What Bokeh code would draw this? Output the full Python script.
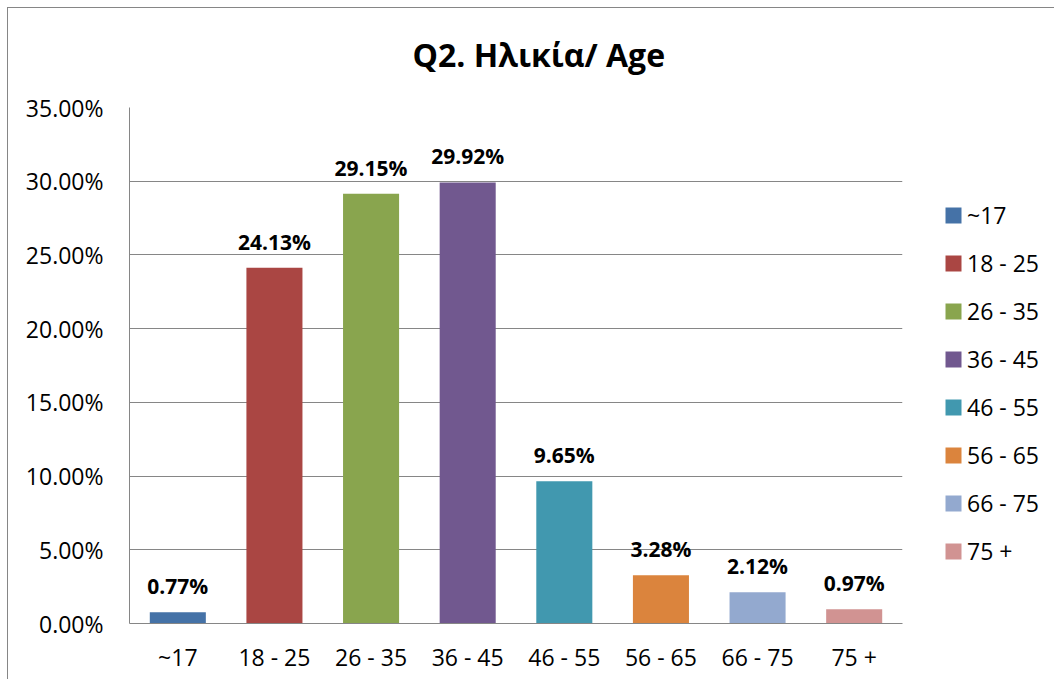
from bokeh.plotting import figure
from bokeh.layouts import column
from bokeh.models import ColumnDataSource, FactorRange, FixedTicker, PrintfTickFormatter, Legend, LegendItem
from bokeh.embed import file_html
from bokeh.resources import INLINE
from bokeh.core.properties import value

categories = ["~17", "18 - 25", "26 - 35", "36 - 45", "46 - 55", "56 - 65", "66 - 75", "75 +"]
percent = [0.77, 24.13, 29.15, 29.92, 9.65, 3.28, 2.12, 0.97]
colors = ["#4572A7", "#AA4643", "#89A54E", "#71588F", "#4198AF", "#DB843D", "#93A9CF", "#D19392"]
y_ticks = [0, 5, 10, 15, 20, 25, 30, 35]

FONT = "Open Sans"

src = ColumnDataSource(dict(
    cat=categories, val=percent, color=colors,
    lab=[f"{v:.2f}%" for v in percent],
))

p = figure(
    x_range=FactorRange(*categories, range_padding=0),
    y_range=(0, 35),
    frame_width=773, frame_height=516,
    min_border_left=121, min_border_top=109, min_border_bottom=56, min_border_right=145,
    output_backend="svg", toolbar_location=None,
    title="Q2. Ηλικία/ Age",
)
p.styles = {"margin-top": "-10px"}

p.title.align = "left"
p.title.vertical_align = "bottom"
p.title.text_font = FONT
p.title.text_font_size = "32px"
p.title.text_font_style = "bold"
p.title.text_color = "black"
p.title.offset = 283
p.title.standoff = 63

p.outline_line_color = None
p.background_fill_color = "white"
p.border_fill_color = "white"

r = p.vbar(x="cat", top="val", width=0.58, source=src, fill_color="color", line_color=None)

p.text(x="cat", y="val", text="lab", source=src, text_align="center", text_baseline="alphabetic",
       y_offset=-26, text_font=value(FONT), text_font_size="21px", text_font_style="bold",
       text_color="black")

p.xgrid.grid_line_color = None
p.ygrid.grid_line_color = "#868686"
p.ygrid.grid_line_width = 1
p.ygrid.ticker = FixedTicker(ticks=y_ticks)

p.yaxis.ticker = FixedTicker(ticks=y_ticks)
p.yaxis.formatter = PrintfTickFormatter(format="%.2f%%")
for ax in (p.xaxis[0], p.yaxis[0]):
    ax.axis_line_color = "#868686"
    ax.major_tick_line_color = None
    ax.minor_tick_line_color = None
    ax.major_tick_out = 0
    ax.major_tick_in = 0
    ax.major_label_text_font = FONT
    ax.major_label_text_font_size = "23px"
    ax.major_label_text_color = "black"
p.yaxis.major_label_standoff = 26
p.xaxis.major_label_standoff = 17

items = [LegendItem(label=c, renderers=[r], index=i) for i, c in enumerate(categories)]
legend = Legend(items=items, location=(41, 56), orientation="vertical",
                glyph_width=20, glyph_height=20, label_height=20, spacing=16,
                label_standoff=4, padding=10, margin=0,
                border_line_color=None, background_fill_alpha=0,
                label_text_font=FONT, label_text_font_size="23px", label_text_color="black")
p.add_layout(legend, "right")

layout = column(p, styles={"border-left": "1px solid #868686", "border-top": "1px solid #868686",
                           "margin-left": "7px", "margin-top": "7px", "overflow": "hidden"})

open("out.html", "w").write(file_html(layout, INLINE))
